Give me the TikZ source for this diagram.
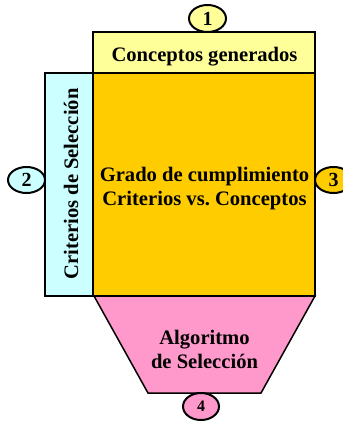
\documentclass[tikz,border=0pt]{standalone}
\usepackage{fontspec}
\setmainfont{Liberation Serif}
\usetikzlibrary{shapes.geometric}
\definecolor{topyellow}{HTML}{FFFF99}
\definecolor{mainorange}{HTML}{FFCC00}
\definecolor{sidecyan}{HTML}{CCFFFF}
\definecolor{algopink}{HTML}{FF99CC}
\begin{document}
\begin{tikzpicture}[x=1pt,y=-1pt,line width=1.5pt,
  boxtext/.style={font=\bfseries\fontsize{20.6}{24}\selectfont,align=center,inner sep=0pt},
  numtag/.style={ellipse,draw,line width=2pt,inner sep=0pt,minimum width=37pt,minimum height=27pt,font=\bfseries\fontsize{20}{20}\selectfont}]
\useasboundingbox (0,0) rectangle (343,421);
\fill[white] (0,0) rectangle (343,421);
\draw[fill=sidecyan] (45,73) rectangle (93,296);
\draw[fill=mainorange] (93,73) rectangle (315,296);
\draw[fill=topyellow] (93,32) rectangle (315,73);
\draw[fill=algopink] (94,296) -- (315,296) -- (261,393) -- (148,393) -- cycle;
\node[boxtext,anchor=base] (conc) at (204.5,61) {Conceptos generados};
\node[boxtext] (grado) at (204.5,189) {Grado de cumplimiento\\Criterios vs.\ Conceptos};
\node[boxtext,rotate=90,anchor=base] (crit) at (78,184) {Criterios de Selección};
\node[boxtext] (algo) at (204.5,349) {Algoritmo\\de Selección};
\node[numtag,fill=topyellow] (n1) at (207.5,18.5) {1};
\node[numtag,fill=sidecyan,minimum height=26pt] (n2) at (26.5,180) {2};
\node[numtag,fill=mainorange,minimum height=26pt] (n3) at (333.5,180) {3};
\node[numtag,fill=algopink,minimum width=36pt,font=\bfseries\fontsize{16}{16}\selectfont] (n4) at (201,406.5) {4};
\end{tikzpicture}
\end{document}
